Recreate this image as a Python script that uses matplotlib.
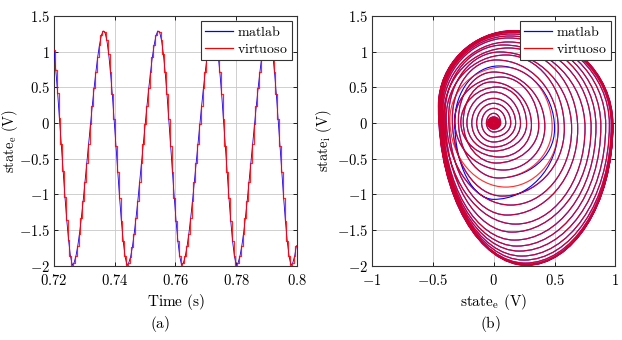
import numpy as np
import matplotlib
matplotlib.use("Agg")
import matplotlib.pyplot as plt
from matplotlib.path import Path
from matplotlib.patches import PathPatch
from matplotlib.lines import Line2D

plt.rcParams["mathtext.fontset"] = "cm"
plt.rcParams["font.family"] = ["DejaVu Serif"]

# ---- panel (a): state_e over time, sampled every 0.6 ms ----
t_start = 0.72
t_step = 0.0006
state_e = [
    1.02, 0.74, 0.42, 0.07, -0.30, -0.67, -1.03, -1.36, -1.64, -1.86,
    -1.99, -1.96, -1.87, -1.73, -1.55, -1.33, -1.09, -0.83, -0.56, -0.29,
    -0.02, 0.24, 0.49, 0.72, 0.93, 1.10, 1.23, 1.29, 1.27, 1.16,
    0.97, 0.71, 0.40, 0.05, -0.32, -0.69, -1.05, -1.38, -1.66, -1.87,
    -1.99, -1.96, -1.88, -1.74, -1.55, -1.33, -1.09, -0.83, -0.56, -0.29,
    -0.02, 0.24, 0.49, 0.72, 0.93, 1.10, 1.23, 1.29, 1.27, 1.16,
    0.97, 0.71, 0.40, 0.05, -0.32, -0.69, -1.05, -1.38, -1.66, -1.87,
    -1.99, -1.96, -1.87, -1.73, -1.55, -1.33, -1.09, -0.83, -0.56, -0.29,
    -0.02, 0.24, 0.49, 0.72, 0.93, 1.10, 1.23, 1.29, 1.27, 1.16,
    0.97, 0.71, 0.40, 0.05, -0.32, -0.69, -1.05, -1.38, -1.66, -1.87,
    -1.99, -1.96, -1.87, -1.73, -1.55, -1.33, -1.09, -0.83, -0.56, -0.29,
    -0.02, 0.24, 0.49, 0.72, 0.93, 1.10, 1.23, 1.29, 1.27, 1.16,
    0.97, 0.71, 0.40, 0.05, -0.32, -0.69, -1.05, -1.38, -1.66, -1.87,
    -1.99, -1.96, -1.87, -1.72,
]

# ---- panel (b): spiral, one entry per turn (extreme points of each turn) ----
right_x = [0.008, 0.014, 0.020, 0.025, 0.031, 0.037, 0.044, 0.050,
           0.057, 0.099, 0.14, 0.18, 0.22, 0.27, 0.31, 0.37, 0.42, 0.48,
           0.53, 0.58, 0.64, 0.69, 0.75, 0.80, 0.84, 0.88, 0.92, 0.95,
           0.965, 0.972, 0.976, 0.979]
right_y = [0.0, 0.0, 0.0, 0.0, 0.0, 0.0, 0.0, 0.0,
           0.0, 0.0, 0.0, 0.0, -0.01, -0.02, -0.03, -0.04, -0.05, -0.06,
           -0.07, -0.08, -0.08, -0.08, -0.07, -0.06, -0.05, -0.04, -0.03, -0.02,
           -0.02, -0.02, -0.02, -0.02]
top_x = [0.0, 0.0, 0.0, 0.0, 0.0, 0.0, 0.0, 0.0,
         0.0, 0.0, 0.0, 0.0, 0.0, 0.03, -0.02, 0.06, 0.0, 0.08,
         0.02, 0.10, 0.05, 0.12, 0.08, 0.12, 0.12, 0.13, 0.14, 0.15,
         0.16, 0.17, 0.17, 0.17]
top_y = [0.014, 0.024, 0.034, 0.043, 0.053, 0.063, 0.074, 0.086,
         0.136, 0.206, 0.276, 0.346, 0.435, 0.505, 0.575, 0.645, 0.715, 0.785,
         0.884, 0.954, 0.996, 1.052, 1.094, 1.136, 1.192, 1.22, 1.248, 1.27,
         1.28, 1.287, 1.292, 1.296]
left_x = [-0.008, -0.014, -0.020, -0.025, -0.031, -0.037, -0.044, -0.050,
          -0.060, -0.099, -0.14, -0.18, -0.22, -0.27, -0.25, -0.32, -0.29, -0.36,
          -0.34, -0.39, -0.37, -0.41, -0.40, -0.419, -0.427, -0.435, -0.439, -0.443,
          -0.447, -0.450, -0.452, -0.454]
left_y = [0.0, 0.0, 0.0, 0.0, 0.0, 0.0, 0.0, 0.0,
          0.0, 0.0, 0.0, 0.0, 0.0, 0.01, 0.02, 0.03, 0.04, 0.05,
          0.06, 0.08, 0.09, 0.11, 0.13, 0.15, 0.17, 0.19, 0.21, 0.22,
          0.23, 0.24, 0.24, 0.24]
bottom_x = [0.0, 0.0, 0.0, 0.0, 0.0, 0.0, 0.0, 0.0,
            0.0, 0.0, 0.0, 0.0, 0.0, 0.05, 0.02, 0.08, 0.04, 0.10,
            0.07, 0.14, 0.11, 0.18, 0.15, 0.17, 0.19, 0.21, 0.23, 0.25,
            0.26, 0.27, 0.27, 0.27]
bottom_y = [-0.014, -0.024, -0.034, -0.043, -0.053, -0.063, -0.074, -0.086,
            -0.126, -0.196, -0.266, -0.337, -0.393, -0.477, -0.561, -0.659, -0.771, -0.898,
            -1.024, -1.15, -1.29, -1.417, -1.529, -1.641, -1.725, -1.795, -1.865, -1.921,
            -1.963, -1.98, -1.99, -1.995]

# matlab follows virtuoso except on one turn where it visibly departs
matlab_turn = 17
matlab_turn_right = (0.50, -0.08)
matlab_turn_top = (0.04, 0.80)
matlab_turn_left = (-0.32, 0.02)
matlab_turn_bottom = (0.0, -1.07)

e_ticks = [-1, -0.5, 0, 0.5, 1]
y_ticks = [-2, -1.5, -1, -0.5, 0, 0.5, 1, 1.5]
t_ticks = [0.72, 0.74, 0.76, 0.78, 0.8]

blue = "#0000ff"
red = "#ff0000"
fs = 11
tfs = 10.5


def math_label(v):
    return "$%s$" % ("%g" % v)


def spiral_path(rx, ry, tx, ty, lx, ly, bx, by):
    verts = [(rx[0], ry[0])]
    codes = [Path.MOVETO]
    n = len(rx)

    def side_to_end(p, q, ks, ke):
        # p has vertical tangent, q has horizontal tangent
        return [(p[0], p[1] + ks * (q[1] - p[1])),
                (q[0] + ke * (p[0] - q[0]), q[1]), q]

    def end_to_side(p, q, ke, ks):
        return [(p[0] + ke * (q[0] - p[0]), p[1]),
                (q[0], q[1] + ks * (p[1] - q[1])), q]

    for i in range(n):
        r = (rx[i], ry[i])
        tp = (tx[i], ty[i])
        lf = (lx[i], ly[i])
        bt = (bx[i], by[i])
        j = min(i + 1, n - 1)
        r_next = (rx[j], ry[j])
        seg = (side_to_end(r, tp, 0.55, 0.55) + end_to_side(tp, lf, 0.55, 0.55)
               + side_to_end(lf, bt, 0.58, 0.52) + end_to_side(bt, r_next, 0.52, 0.58))
        verts += seg
        codes += [Path.CURVE4] * len(seg)
    return Path(verts, codes)


fig = plt.figure(figsize=(6.22, 3.4), dpi=100)
ax1 = fig.add_axes([0.0868, 0.2185, 0.3907, 0.7344])
ax2 = fig.add_axes([0.598, 0.2185, 0.3915, 0.7344])

# (a)
t = t_start + t_step * np.arange(len(state_e))
ax1.plot(t, state_e, color=blue, lw=0.6, zorder=3)
ax1.plot(t, state_e, color=red, lw=0.9, alpha=0.85, drawstyle="steps-mid", zorder=4)
ax1.set_xlim(0.72, 0.8)
ax1.set_ylim(-2, 1.5)
ax1.set_xticks(t_ticks)
ax1.set_xticklabels([math_label(v) for v in t_ticks])
ax1.set_yticks(y_ticks)
ax1.set_yticklabels([math_label(v) for v in y_ticks])
ax1.set_xlabel(r"$\mathrm{Time\ (s)}$", fontsize=fs, labelpad=3)
ax1.set_ylabel(r"$\mathrm{state_e\ (V)}$", fontsize=10.5)
ax1.yaxis.set_label_coords(-0.14, 0.5)

# (b)
m_rx, m_ry = list(right_x), list(right_y)
m_tx, m_ty = list(top_x), list(top_y)
m_lx, m_ly = list(left_x), list(left_y)
m_bx, m_by = list(bottom_x), list(bottom_y)
m_rx[matlab_turn], m_ry[matlab_turn] = matlab_turn_right
m_tx[matlab_turn], m_ty[matlab_turn] = matlab_turn_top
m_lx[matlab_turn], m_ly[matlab_turn] = matlab_turn_left
m_bx[matlab_turn], m_by[matlab_turn] = matlab_turn_bottom

ax2.add_patch(PathPatch(spiral_path(m_rx, m_ry, m_tx, m_ty, m_lx, m_ly, m_bx, m_by),
                        fill=False, edgecolor=blue, lw=0.8, zorder=3))
ax2.add_patch(PathPatch(spiral_path(right_x, right_y, top_x, top_y,
                                    left_x, left_y, bottom_x, bottom_y),
                        fill=False, edgecolor=red, lw=0.85, alpha=0.8, zorder=4))
ax2.set_xlim(-1, 1)
ax2.set_ylim(-2, 1.5)
ax2.set_xticks(e_ticks)
ax2.set_xticklabels([math_label(v) for v in e_ticks])
ax2.set_yticks(y_ticks)
ax2.set_yticklabels([math_label(v) for v in y_ticks])
ax2.set_xlabel(r"$\mathrm{state_e\ (V)}$", fontsize=fs, labelpad=3)
ax2.set_ylabel(r"$\mathrm{state_i\ (V)}$", fontsize=10.5)
ax2.yaxis.set_label_coords(-0.155, 0.5)

handles = [Line2D([], [], color=blue, lw=0.9), Line2D([], [], color=red, lw=0.9)]
for ax in (ax1, ax2):
    ax.grid(True, color="#c8c8c8", lw=0.6)
    ax.set_axisbelow(True)
    ax.tick_params(direction="in", length=3, width=0.6, labelsize=tfs,
                   top=True, right=True)
    ax.tick_params(axis="x", pad=5)
    ax.tick_params(axis="y", pad=3)
    for s in ax.spines.values():
        s.set_linewidth(0.8)
        s.set_color("#333333")
    leg = ax.legend(handles, [r"$\mathrm{matlab}$", r"$\mathrm{virtuoso}$"],
                    loc="upper right", fontsize=10, frameon=True, fancybox=False,
                    framealpha=1, edgecolor="#333333", borderaxespad=0.35,
                    handlelength=2.0, handletextpad=0.3, borderpad=0.3,
                    labelspacing=0.2)
    leg.get_frame().set_linewidth(0.8)
    leg.set_zorder(10)

fig.text(0.257, 0.035, r"$\mathrm{(a)}$", ha="center", fontsize=fs)
fig.text(0.788, 0.035, r"$\mathrm{(b)}$", ha="center", fontsize=fs)

fig.savefig("out.png", dpi=100)
